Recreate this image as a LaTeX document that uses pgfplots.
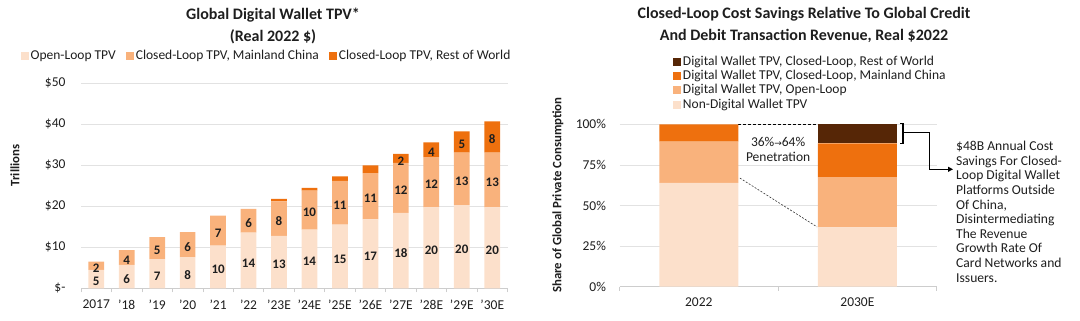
\documentclass[border=0pt]{standalone}
\usepackage{pgfplots}
\usepackage{pgfplotstable}
\pgfplotsset{compat=1.18}
\usetikzlibrary{arrows.meta}
\usepackage{fontspec}
\setmainfont{Carlito}
\newfontfamily\dejavu{DejaVu Sans}
\definecolor{cOpen}{RGB}{252,224,203}
\definecolor{cChina}{RGB}{249,178,124}
\definecolor{cRow}{RGB}{238,112,14}
\definecolor{cBrown}{RGB}{86,38,6}
\definecolor{gridc}{RGB}{226,226,226}
\definecolor{axisc}{RGB}{205,205,205}
\definecolor{txt}{RGB}{30,30,30}

\pgfplotstableread{
x open china row lo lc lr
0 4.5 2.0 0 5 2 {}
1 5.7 3.6 0 6 4 {}
2 7.1 5.4 0 7 5 {}
3 7.6 6.1 0 8 6 {}
4 10.4 7.3 0 10 7 {}
5 13.6 5.8 0 14 6 {}
6 12.8 8.4 0.6 13 8 {}
7 14.3 9.5 0.7 14 10 {}
8 15.5 10.7 1.1 15 11 {}
9 16.8 11.3 1.9 17 11 {}
10 18.4 12.2 2.2 18 12 2
11 19.75 12.25 3.6 20 12 4
12 20.3 12.8 5.2 20 13 5
13 19.75 13.35 7.6 20 13 8
}\lefttable

\pgfplotstableread{
x non open china row
0 64.0 25.3 10.7 0
1 36.6 30.8 20.9 11.7
}\righttable

\pgfplotsset{
  base/.style={
    scale only axis, anchor=south west,
    axis lines*=left,
    axis line style={-, draw=axisc, line width=0.7pt},
    y axis line style={draw=none},
    ytick style={draw=none},
    xtick style={draw=axisc, line width=0.7pt},
    tick align=outside, major tick length=4pt,
    x tick label as interval,
    ymajorgrids, grid style={draw=gridc, line width=0.6pt},
    tick label style={font=\fontsize{13.5}{15}\selectfont, text=txt},
    xticklabel style={yshift=-4pt},
    legend cell align=left,
  },
  sq/.style={legend image code/.code={\fill[##1,draw=none] (0pt,-3.8pt) rectangle (8pt,4.2pt);}},
}

\begin{document}
\begin{tikzpicture}[font=\fontsize{13.5}{15}\selectfont, text=txt]
\path[use as bounding box] (0pt,0pt) rectangle (1080pt,321pt);

% titles and axis labels
\node[font=\bfseries\fontsize{16}{18}\selectfont] at (273pt,305.5pt) {Global Digital Wallet TPV*};
\node[font=\bfseries\fontsize{16}{18}\selectfont] at (273pt,284.5pt) {(Real 2022 \$)};
\node[font=\bfseries\fontsize{16}{18}\selectfont] at (804pt,306.5pt) {Closed-Loop Cost Savings Relative To Global Credit};
\node[font=\bfseries\fontsize{16}{18}\selectfont] at (804pt,285.5pt) {And Debit Transaction Revenue, Real \$2022};
\node[rotate=90, font=\bfseries\fontsize{12.8}{15}\selectfont] at (15pt,155.5pt) {Trillions};
\node[rotate=90, font=\bfseries\fontsize{12.8}{15}\selectfont] at (558pt,126pt) {Share of Global Private Consumption};

% ---------------- left chart ----------------
\begin{axis}[base,
  at={(81pt,32.7pt)}, width=426.5pt, height=205pt,
  xmin=-0.5, xmax=13.5, ymin=0, ymax=50,
  ybar stacked, bar width=15.7pt,
  ytick={0,10,20,30,40,50},
  yticklabels={\$-,\$10,\$20,\$30,\$40,\$50},
  yticklabel style={xshift=-8pt},
  xtick={-0.5,0.5,1.5,2.5,3.5,4.5,5.5,6.5,7.5,8.5,9.5,10.5,11.5,12.5,13.5},
  xticklabels={2017,'18,'19,'20,'21,'22,'23E,'24E,'25E,'26E,'27E,'28E,'29E,'30E},
  legend style={at={(axis description cs:0.435,1.133)}, anchor=center, draw=none, fill=none,
    font=\fontsize{13.5}{15}\selectfont, legend columns=-1,
    nodes={inner sep=1.5pt},
    /tikz/every even column/.append style={column sep=9pt}},
]
\addplot[sq, fill=cOpen, draw=none] table[x=x, y=open]{\lefttable};
\addlegendentry{Open-Loop TPV}
\addplot[sq, fill=cChina, draw=none] table[x=x, y=china]{\lefttable};
\addlegendentry{Closed-Loop TPV, Mainland China}
\addplot[sq, fill=cRow, draw=none] table[x=x, y=row]{\lefttable};
\addlegendentry{Closed-Loop TPV, Rest of World}
\end{axis}

% labels overlay (left)
\begin{axis}[
  at={(81pt,32.7pt)}, anchor=south west, scale only axis, width=426.5pt, height=205pt,
  xmin=-0.5, xmax=13.5, ymin=0, ymax=50, hide axis, clip=false,
  nodes near coords, point meta=explicit symbolic,
  every node near coord/.append style={anchor=center, yshift=-2.5pt, font=\bfseries\fontsize{13}{15}\selectfont, text=txt},
]
\addplot[draw=none, mark=none] table[x=x, y expr=\thisrow{open}/2, meta=lo]{\lefttable};
\addplot[draw=none, mark=none] table[x=x, y expr=\thisrow{open}+\thisrow{china}/2, meta=lc]{\lefttable};
\addplot[draw=none, mark=none] table[x=x, y expr=\thisrow{open}+\thisrow{china}+\thisrow{row}/2, meta=lr]{\lefttable};
\end{axis}

% ---------------- right chart ----------------
\begin{axis}[base,
  at={(619.5pt,34.3pt)}, width=317.2pt, height=162.4pt,
  xmin=-0.5, xmax=1.5, ymin=0, ymax=100,
  ybar stacked, bar width=79pt, clip=false,
  ytick={0,25,50,75,100},
  yticklabels={0\%,25\%,50\%,75\%,100\%},
  yticklabel style={xshift=-6pt},
  xtick={-0.5,0.5,1.5},
  xticklabels={2022,2030E},
  reverse legend,
  legend style={at={(axis description cs:0.16,1.44)}, anchor=north west, draw=none, fill=none,
    font=\fontsize{13.5}{15}\selectfont, row sep=0pt,
    nodes={inner sep=1.5pt, text height=9pt, text depth=2.2pt}},
]
\addplot[sq, fill=cOpen, draw=none] table[x=x, y=non]{\righttable};
\addlegendentry{Non-Digital Wallet TPV}
\addplot[sq, fill=cChina, draw=none] table[x=x, y=open]{\righttable};
\addlegendentry{Digital Wallet TPV, Open-Loop}
\addplot[sq, fill=cRow, draw=none] table[x=x, y=china]{\righttable};
\addlegendentry{Digital Wallet TPV, Closed-Loop, Mainland China}
\addplot[sq, fill=cBrown, draw=none] table[x=x, y=row]{\righttable};
\addlegendentry{Digital Wallet TPV, Closed-Loop, Rest of World}
\draw[black, line width=1pt, dash pattern=on 3pt off 2pt] (axis cs:0.249,100) -- (axis cs:0.751,100);
\draw[black!80, line width=0.6pt, dash pattern=on 2pt off 1.5pt] (axis cs:0.259,66.9) -- (axis cs:0.746,36.8);
\node[align=center, font=\fontsize{13.5}{15}\selectfont] at (axis cs:0.5,84.7) {36\%{\dejavu\fontsize{9}{10}\selectfont →}64\%\\Penetration};
\end{axis}

% bracket and arrow annotation
\draw[line width=1.1pt] (900pt,197.7pt) -- (903pt,197.7pt) -- (903pt,177.7pt) -- (900pt,177.7pt);
\draw[line width=1.1pt, -{Triangle[length=5pt,width=5pt]}] (903pt,188.3pt) -- (929.3pt,188.3pt) -- (929.3pt,151.7pt) -- (953pt,151.7pt);
\node[anchor=north west, align=left, inner sep=0pt, font=\fontsize{13.6}{14.6}\selectfont] at (956pt,180pt)
 {\$48B Annual Cost\\Savings For Closed-\\Loop Digital Wallet\\Platforms Outside\\Of China,\\Disintermediating\\The Revenue\\Growth Rate Of\\Card Networks and\\Issuers.};
\end{tikzpicture}
\end{document}
